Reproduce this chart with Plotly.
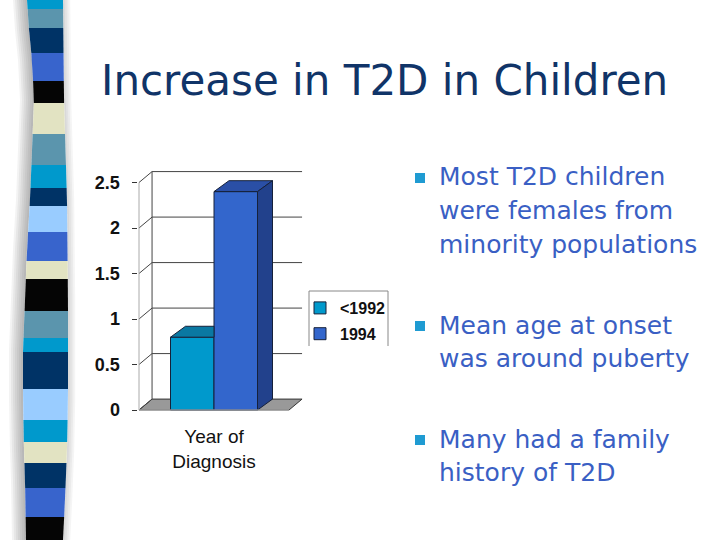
import numpy as np
import plotly.graph_objects as go

# ---------------- data ----------------
x_tick_labels = ["Year of<br>Diagnosis"]
series_names = ["<1992", "1994"]
values_lt1992 = [0.8]
values_1994 = [2.4]
y_tick_values = [0, 0.5, 1, 1.5, 2, 2.5]
y_tick_labels = ["0", "0.5", "1", "1.5", "2", "2.5"]
title_text = "Increase in T2D in Children"
bullet_1 = ["Most T2D children", "were females from", "minority populations"]
bullet_2 = ["Mean age at onset", "was around puberty"]
bullet_3 = ["Many had a family", "history of T2D"]

# ---------------- geometry / style ----------------
W, H = 720, 540
def px(x):
    return x / W
def py(y):
    return 1 - y / H

X_LEFT, X_RIGHT = -0.5, 0.5
FRONT_LEFT_PX, FRONT_ZERO_PX = 139, 410
SX, SY = 150.0, 91.0
WALL_DX, WALL_DY = 0.087, 0.12
BAR_DX, BAR_DY = 0.1, 0.12
BAR_W = 0.29
X_RANGE = [-0.51, 0.597]
Y_RANGE = [-0.01, 2.64]
x_dom = [(FRONT_LEFT_PX + (X_RANGE[0] - X_LEFT) * SX) / W,
         (FRONT_LEFT_PX + (X_RANGE[1] - X_LEFT) * SX) / W]
y_dom = [1 - (FRONT_ZERO_PX - Y_RANGE[0] * SY) / H,
         1 - (FRONT_ZERO_PX - Y_RANGE[1] * SY) / H]

front_colors = ["#0099CC", "#3366CC"]
top_colors = ["#0A78A2", "#2A4FA6"]
side_colors = ["#06668C", "#22418C"]
edge = "#16213A"
grid_col = "#444444"

fig = go.Figure()

series_vals = [values_lt1992, values_1994]
offsets = [-BAR_W + i * BAR_W for i in range(len(series_vals))]

# front faces (real bars)
for i, (name, vals) in enumerate(zip(series_names, series_vals)):
    fig.add_trace(go.Bar(
        x=[0] * len(vals), y=vals, name=name, offset=offsets[i], width=BAR_W,
        marker=dict(color=front_colors[i], line=dict(color=edge, width=1)),
        legendgroup=name, hoverinfo="skip"))

# 3D top & side faces computed from values
for i, vals in enumerate(series_vals):
    v = vals[0]
    x0, x1 = offsets[i], offsets[i] + BAR_W
    hidden = i + 1 < len(series_vals) and series_vals[i + 1][0] >= v
    if hidden:
        tx = [x0, x1, x1, x0 + BAR_DX, x0]
        ty = [v, v, v + BAR_DY, v + BAR_DY, v]
    else:
        tx = [x0, x1, x1 + BAR_DX, x0 + BAR_DX, x0]
        ty = [v, v, v + BAR_DY, v + BAR_DY, v]
    fig.add_trace(go.Scatter(x=tx, y=ty, mode="lines", fill="toself",
                             fillcolor=top_colors[i], line=dict(color=edge, width=1),
                             showlegend=False, hoverinfo="skip"))
    if not hidden:
        sx = [x1, x1 + BAR_DX, x1 + BAR_DX, x1, x1]
        sy = [0, BAR_DY, v + BAR_DY, v, 0]
        fig.add_trace(go.Scatter(x=sx, y=sy, mode="lines", fill="toself",
                                 fillcolor=side_colors[i], line=dict(color=edge, width=1),
                                 showlegend=False, hoverinfo="skip"))

shapes = []
# floor
shapes.append(dict(type="path", xref="x", yref="y", layer="below",
                   path=f"M{X_LEFT},0 L{X_RIGHT},0 L{X_RIGHT+WALL_DX},{WALL_DY} L{X_LEFT+WALL_DX},{WALL_DY} Z",
                   fillcolor="#999999", line=dict(color="#333333", width=1)))
# back wall gridlines + side-wall diagonals
for t in y_tick_values:
    if t > 0:
        shapes.append(dict(type="line", xref="x", yref="y", layer="below",
                           x0=X_LEFT + WALL_DX, x1=X_RIGHT + WALL_DX, y0=t + WALL_DY, y1=t + WALL_DY,
                           line=dict(color=grid_col, width=1)))
    shapes.append(dict(type="line", xref="x", yref="y", layer="below",
                       x0=X_LEFT, x1=X_LEFT + WALL_DX, y0=t, y1=t + WALL_DY,
                       line=dict(color=grid_col, width=1)))
top = y_tick_values[-1]
shapes.append(dict(type="line", xref="x", yref="y", layer="below",
                   x0=X_LEFT + WALL_DX, x1=X_LEFT + WALL_DX, y0=WALL_DY, y1=top + WALL_DY,
                   line=dict(color=grid_col, width=1)))
shapes.append(dict(type="line", xref="x", yref="y", layer="below",
                   x0=X_LEFT, x1=X_LEFT, y0=0, y1=top,
                   line=dict(color="#AAAAAA", width=1)))
shapes.append(dict(type="line", xref="x", yref="y", layer="above",
                   x0=X_LEFT, x1=X_RIGHT, y0=0, y1=0,
                   line=dict(color="#BBBBBB", width=1)))

# legend border (three sides)
shapes.append(dict(type="path", xref="paper", yref="paper",
                   path=f"M{px(309)},{py(346)} L{px(309)},{py(291)} L{px(388)},{py(291)} L{px(388)},{py(346)}",
                   line=dict(color="#888888", width=1)))

# ---------------- decorative stripe ----------------
band_y = [0, 9, 28, 53, 81, 103, 134, 165, 188, 206, 232, 261, 279, 311, 338, 352, 389, 420, 442, 463, 488, 517, 540]
CY, ST, NV, RB, BK, CR, LB = "#0099CC", "#5B95AD", "#003366", "#3864CC", "#050505", "#E2E3C2", "#99CCFF"
band_c = [CY, ST, NV, RB, BK, CR, ST, CY, NV, LB, RB, CR, BK, ST, CY, NV, LB, CY, CR, NV, RB, BK]
ly = [0, 30, 60, 100, 200, 250, 300, 350, 400, 450, 480, 540]
lx = [27, 29, 32, 34, 30, 27, 25, 23, 23, 24, 25, 26]
ry = [0, 100, 200, 300, 400, 450, 500, 540]
rx = [63, 64, 67, 68, 68, 67, 65, 63]

def L(y):
    return float(np.interp(y, ly, lx))
def R(y):
    return float(np.interp(y, ry, rx))

ys = np.arange(0, 541, 10)
# shadows
for k in range(1, 8):
    pts = [(L(y) - 2 * k, y) for y in ys] + [(L(y), y) for y in ys[::-1]]
    path = "M" + " L".join(f"{px(a)},{py(b)}" for a, b in pts) + " Z"
    shapes.append(dict(type="path", xref="paper", yref="paper", path=path,
                       fillcolor="rgba(80,80,80,0.07)", line=dict(width=0)))
for k in range(1, 5):
    pts = [(R(y), y) for y in ys] + [(R(y) + 1.8 * k, y) for y in ys[::-1]]
    path = "M" + " L".join(f"{px(a)},{py(b)}" for a, b in pts) + " Z"
    shapes.append(dict(type="path", xref="paper", yref="paper", path=path,
                       fillcolor="rgba(80,80,80,0.06)", line=dict(width=0)))
for (y0, y1), c in zip(zip(band_y[:-1], band_y[1:]), band_c):
    pts = [(L(y0), y0), (L(y1), y1), (R(y1), y1), (R(y0), y0)]
    path = "M" + " L".join(f"{px(a)},{py(b)}" for a, b in pts) + " Z"
    shapes.append(dict(type="path", xref="paper", yref="paper", path=path,
                       fillcolor=c, line=dict(width=0)))

# ---------------- text ----------------
annotations = [dict(text=title_text, x=px(99), y=py(80), xref="paper", yref="paper",
                    xanchor="left", yanchor="middle", showarrow=False,
                    font=dict(family="DejaVu Sans", size=42, color="#103468"))]
bullet_color = "#3A5FC4"
LINE_H = 33.5
for block, y_start in zip([bullet_1, bullet_2, bullet_3], [177, 325, 439]):
    shapes.append(dict(type="rect", xref="paper", yref="paper",
                       x0=px(415), x1=px(425), y0=py(y_start - 4), y1=py(y_start + 6),
                       fillcolor="#1F9BD2", line=dict(width=0)))
    for j, line in enumerate(block):
        annotations.append(dict(text=line, x=px(437), y=py(y_start + j * LINE_H),
                                xref="paper", yref="paper", xanchor="left", yanchor="middle",
                                showarrow=False,
                                font=dict(family="DejaVu Sans", size=25, color=bullet_color)))

fig.update_layout(
    width=W, height=H, autosize=False, margin=dict(l=0, r=0, t=0, b=0, pad=0, autoexpand=False),
    paper_bgcolor="white", plot_bgcolor="white",
    barmode="overlay", showlegend=True,
    shapes=shapes, annotations=annotations,
    legend=dict(x=px(300), y=py(291), xanchor="left", yanchor="top",
                bgcolor="rgba(0,0,0,0)", borderwidth=0, tracegroupgap=2,
                font=dict(family="Liberation Sans, Arial", size=16, color="#111111",
                          weight="bold")),
    xaxis=dict(domain=x_dom, range=X_RANGE, tickvals=[0], ticktext=x_tick_labels,
               showgrid=False, zeroline=False, showline=False, ticks="", automargin=False,
               ticklabelstandoff=12,
               tickfont=dict(family="Liberation Sans, Arial", size=19, color="#111111")),
    yaxis=dict(domain=y_dom, range=Y_RANGE, tickvals=y_tick_values, ticktext=y_tick_labels,
               showgrid=False, zeroline=False, showline=False, ticks="outside", automargin=False,
               ticklen=5, tickcolor="#333333", ticklabelstandoff=8,
               tickfont=dict(family="Liberation Sans, Arial", size=18, color="#111111",
                             weight="bold")),
)

post = ("document.body.style.margin='0';"
        "var gd=document.getElementById('{plot_id}');"
        "gd.style.position='fixed';gd.style.top='0px';gd.style.left='0px';")
fig.write_html("out.html", config={"displayModeBar": False, "responsive": False}, post_script=post)
